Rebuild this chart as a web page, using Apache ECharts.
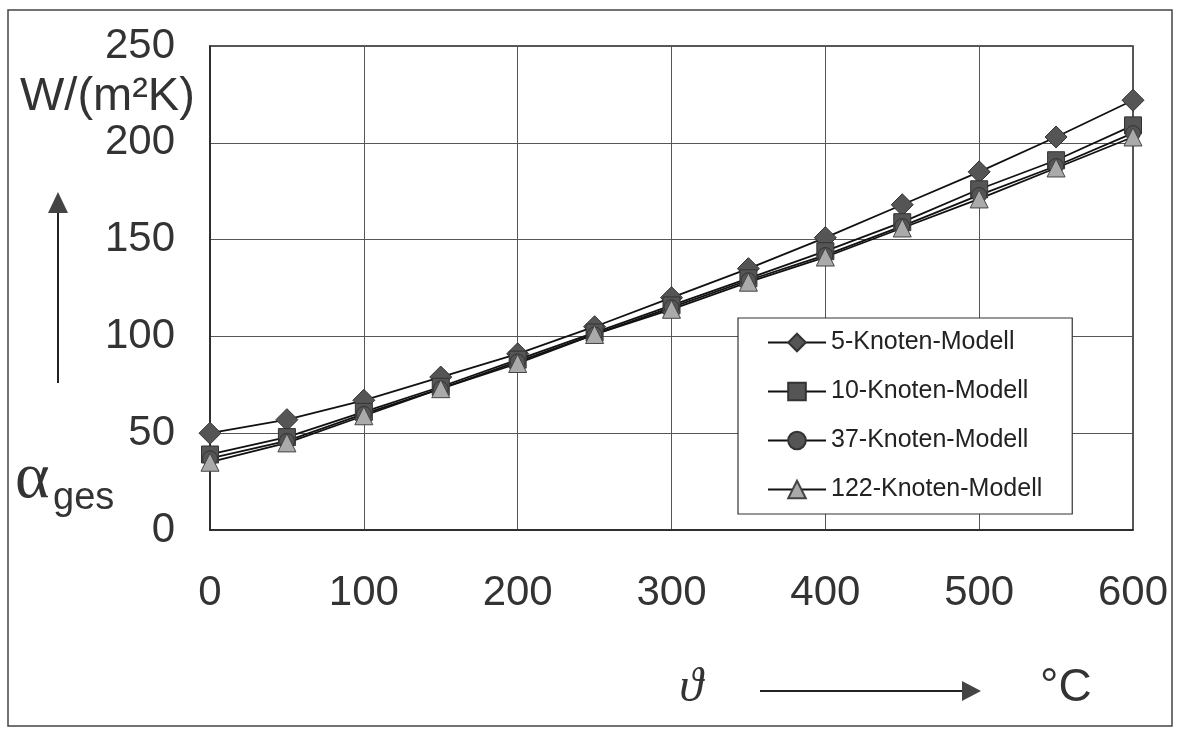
<!DOCTYPE html>
<html>
<head>
<meta charset="utf-8">
<script src="https://cdn.jsdelivr.net/npm/echarts@6/dist/echarts.min.js"></script>
<style>
html,body{margin:0;padding:0;background:#fff;}
#chart{width:1179px;height:729px;}
</style>
</head>
<body>
<div id="chart"></div>
<script>
const temperatures = [0, 50, 100, 150, 200, 250, 300, 350, 400, 450, 500, 550, 600];
const knoten5   = [50, 57, 67, 79, 91, 105, 120, 135, 151, 168, 185, 203, 222];
const knoten10  = [39, 48, 61, 74, 88, 102, 116, 130, 144, 159, 176, 191, 209];
const knoten37  = [37, 46, 60, 73, 87, 101, 115, 129, 142, 157, 173, 188, 205];
const knoten122 = [35, 45, 59, 73, 86, 101, 114, 128, 141, 156, 171, 187, 203];
const seriesNames = ['5-Knoten-Modell', '10-Knoten-Modell', '37-Knoten-Modell', '122-Knoten-Modell'];
const xTicks = { min: 0, max: 600, interval: 100 };
const yTicks = { min: 0, max: 250, interval: 50 };

const toPairs = arr => arr.map((v, i) => [temperatures[i], v]);
const txt = '#333';
const sans = '"Liberation Sans", Arial, sans-serif';

function mkSeries(name, data, symbol, size, fill, border) {
  return {
    name: name, type: 'line', data: toPairs(data),
    symbol: symbol, symbolSize: size,
    lineStyle: { color: '#111', width: 1.8 },
    itemStyle: { color: fill, borderColor: border, borderWidth: 1 },
    emphasis: { disabled: true },
    animation: false
  };
}

const chart = echarts.init(document.getElementById('chart'));
chart.setOption({
  backgroundColor: '#fff',
  animation: false,
  grid: { left: 210, right: 46, top: 46, bottom: 199, show: true, borderColor: '#222', borderWidth: 1.5 },
  xAxis: {
    type: 'value', min: xTicks.min, max: xTicks.max, interval: xTicks.interval,
    axisLine: { show: true, lineStyle: { color: '#222', width: 1.5 } },
    axisTick: { show: false },
    axisLabel: { fontSize: 42, color: txt, fontFamily: sans, margin: 42 },
    splitLine: { show: true, lineStyle: { color: '#555', width: 1 } }
  },
  yAxis: {
    type: 'value', min: yTicks.min, max: yTicks.max, interval: yTicks.interval,
    axisLine: { show: true, lineStyle: { color: '#222', width: 1.5 } },
    axisTick: { show: false },
    axisLabel: { fontSize: 42, color: txt, fontFamily: sans, margin: 35 },
    splitLine: { show: true, lineStyle: { color: '#555', width: 1 } }
  },
  legend: {
    left: 738, top: 318, orient: 'vertical',
    backgroundColor: '#fff', borderColor: '#333', borderWidth: 1.2,
    padding: [12, 30, 12, 29],
    itemWidth: 58, itemHeight: 22, itemGap: 24,
    textStyle: { fontSize: 25, lineHeight: 25, color: '#222', fontFamily: sans },
    data: seriesNames,
    selectedMode: false
  },
  series: [
    mkSeries(seriesNames[0], knoten5, 'diamond', 22, '#555', '#333'),
    mkSeries(seriesNames[1], knoten10, 'rect', 17, '#555', '#333'),
    mkSeries(seriesNames[2], knoten37, 'circle', 15, '#555', '#333'),
    mkSeries(seriesNames[3], knoten122, 'triangle', 18, '#aaa', '#444')
  ],
  graphic: [
    { type: 'rect', shape: { x: 8, y: 10, width: 1164, height: 716 }, style: { fill: 'none', stroke: '#444', lineWidth: 1.5 }, silent: true },
    { type: 'text', style: { text: 'W/(m²K)', x: 20, y: 97, font: '47px ' + sans, fill: txt, textAlign: 'left', textVerticalAlign: 'middle' } },
    { type: 'line', shape: { x1: 58, y1: 383, x2: 58, y2: 210 }, style: { stroke: '#222', lineWidth: 2 } },
    { type: 'polygon', shape: { points: [[58, 192], [48, 213], [68, 213]] }, style: { fill: '#444' } },
    { type: 'text', style: { text: 'α', x: 15, y: 480, font: '66px "Liberation Serif", "DejaVu Serif", serif', fill: txt, textAlign: 'left', textVerticalAlign: 'middle' } },
    { type: 'text', style: { text: 'ges', x: 53, y: 499, font: '38px ' + sans, fill: txt, textAlign: 'left', textVerticalAlign: 'middle' } },
    { type: 'text', style: { text: 'ϑ', x: 691, y: 688, font: 'italic 48px "Liberation Serif", "DejaVu Serif", serif', fill: txt, textAlign: 'center', textVerticalAlign: 'middle' } },
    { type: 'line', shape: { x1: 760, y1: 691, x2: 964, y2: 691 }, style: { stroke: '#222', lineWidth: 2 } },
    { type: 'polygon', shape: { points: [[962, 681], [981, 691], [962, 701]] }, style: { fill: '#444' } },
    { type: 'text', style: { text: '°C', x: 1040, y: 688, font: '46px ' + sans, fill: txt, textAlign: 'left', textVerticalAlign: 'middle' } }
  ]
});
</script>
</body>
</html>
